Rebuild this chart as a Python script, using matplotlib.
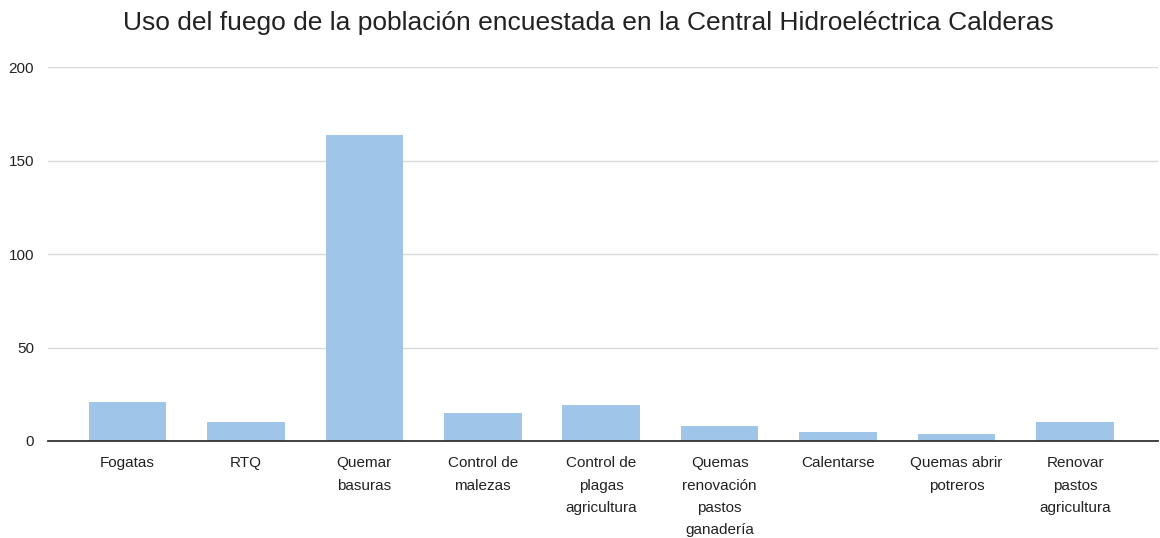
import matplotlib
matplotlib.use("Agg")
import matplotlib.pyplot as plt

categories = ["Fogatas", "RTQ", "Quemar\nbasuras", "Control de\nmalezas",
              "Control de\nplagas\nagricultura", "Quemas\nrenovación\npastos\nganadería",
              "Calentarse", "Quemas abrir\npotreros", "Renovar\npastos\nagricultura"]
values = [21, 10, 164, 15, 19, 8, 5, 4, 10]
yticks = [0, 50, 100, 150, 200]
title = "Uso del fuego de la población encuestada en la Central Hidroeléctrica Calderas"

plt.rcParams['font.family'] = ['Liberation Sans', 'DejaVu Sans']

fig = plt.figure(figsize=(11.6, 5.38), dpi=100)
ax = fig.add_axes([48/1160, 97/538, 1110/1160, (441-67.3)/538])

x = list(range(len(categories)))
ax.bar(x, values, width=0.655, color="#9fc5e8", zorder=3)

ax.set_ylim(0, 200)
ax.set_xlim(-0.67, len(categories) - 1 + 0.70)
ax.set_yticks(yticks)
ax.set_yticklabels([str(t) for t in yticks], fontsize=11, color="#222222")
ax.set_xticks(x)
ax.set_xticklabels(categories, fontsize=11, color="#222222", linespacing=1.75)
ax.tick_params(axis='both', length=0)
ax.tick_params(axis='x', pad=11)
ax.tick_params(axis='y', pad=10)

ax.grid(axis='y', color="#d9d9d9", linewidth=1, zorder=0)
for s in ["top", "right", "left"]:
    ax.spines[s].set_visible(False)
ax.spines["bottom"].set_color("#333333")
ax.spines["bottom"].set_linewidth(1.3)
ax.spines["bottom"].set_zorder(4)

fig.text(588/1160, 1 - 23/538, title, ha='center', va='center', fontsize=19, color="#222222")

fig.savefig("out.png", dpi=100)
